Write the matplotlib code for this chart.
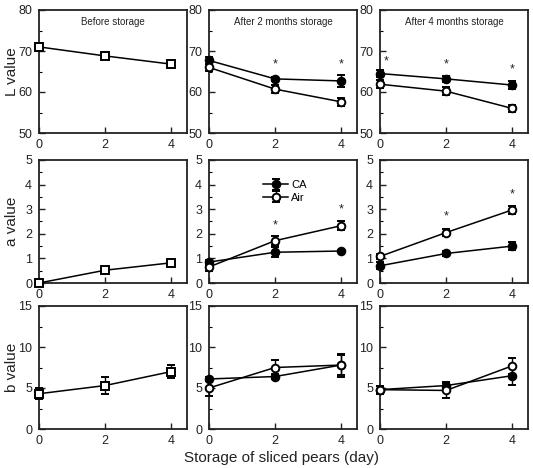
import matplotlib
matplotlib.use("Agg")
import matplotlib.pyplot as plt
from matplotlib.ticker import MultipleLocator

plt.rcParams['font.family'] = ['Liberation Sans', 'DejaVu Sans']

days = [0, 2, 4]
titles = ["Before storage", "After 2 months storage", "After 4 months storage"]
ylabels = ["L value", "a value", "b value"]
ylims = [(50, 80), (0, 5), (0, 15)]
ymajor = [10, 1, 5]
xlabel = "Storage of sliced pears (day)"

# Before storage (single series, open squares)
before_L = [71.0, 68.8, 66.8]
before_L_err = [1.0, 0.8, 0.9]
before_a = [0.0, 0.52, 0.82]
before_a_err = [0.05, 0.1, 0.12]
before_b = [4.3, 5.3, 7.0]
before_b_err = [0.7, 1.0, 0.8]

# After 2 months
m2_L_ca = [67.7, 63.2, 62.7]
m2_L_ca_err = [0.8, 0.5, 1.4]
m2_L_air = [66.0, 60.7, 57.6]
m2_L_air_err = [0.8, 0.9, 1.0]
m2_a_ca = [0.85, 1.25, 1.3]
m2_a_ca_err = [0.1, 0.2, 0.05]
m2_a_air = [0.65, 1.72, 2.33]
m2_a_air_err = [0.15, 0.18, 0.18]
m2_b_ca = [6.1, 6.4, 7.8]
m2_b_ca_err = [0.3, 0.3, 1.2]
m2_b_air = [5.0, 7.5, 7.8]
m2_b_air_err = [1.0, 0.9, 1.4]

# After 4 months
m4_L_ca = [64.5, 63.2, 61.7]
m4_L_ca_err = [0.8, 0.8, 0.9]
m4_L_air = [61.9, 60.2, 56.0]
m4_L_air_err = [1.0, 0.9, 0.8]
m4_a_ca = [0.7, 1.2, 1.5]
m4_a_ca_err = [0.15, 0.1, 0.15]
m4_a_air = [1.08, 2.05, 2.97]
m4_a_air_err = [0.1, 0.15, 0.18]
m4_b_ca = [4.8, 5.3, 6.5]
m4_b_ca_err = [0.5, 0.4, 1.1]
m4_b_air = [4.8, 4.7, 7.7]
m4_b_air_err = [0.4, 0.9, 1.0]

# Significance stars (x, y)
stars_m2_L = [(2, 66.8), (4, 66.8)]
stars_m4_L = [(0.18, 67.5), (2, 66.8), (4, 65.4)]
stars_m2_a = [(2, 2.35), (4, 3.0)]
stars_m4_a = [(2, 2.7), (4, 3.6)]

W, H = 533, 468
fig = plt.figure(figsize=(W / 100, H / 100), dpi=100)

col_left = [39, 209, 380]
col_right = [187, 357, 528]
row_top = [10, 160, 306]
row_bot = [133, 283, 429]

lw = 1.1
ms = 5.5


def mk_ax(r, c):
    l, rt = col_left[c], col_right[c]
    t, b = row_top[r], row_bot[r]
    ax = fig.add_axes([l / W, 1 - b / H, (rt - l) / W, (b - t) / H])
    ax.set_xlim(0, 4.48)
    ax.set_ylim(*ylims[r])
    ax.set_xticks(days)
    ax.yaxis.set_major_locator(MultipleLocator(ymajor[r]))
    ax.yaxis.set_minor_locator(MultipleLocator(ymajor[r] / 2))
    ax.tick_params(axis='both', which='major', direction='in', length=4,
                   width=1, labelsize=9, colors='#222222')
    ax.tick_params(axis='x', which='major', pad=4)
    ax.tick_params(axis='y', which='major', pad=5)
    ax.tick_params(axis='y', which='minor', direction='in', length=2, width=0.8)
    for s in ax.spines.values():
        s.set_linewidth(1.3)
        s.set_color('#222222')
    return ax


def series(ax, y, err, marker, face, label=None):
    ax.errorbar(days, y, yerr=err, color='black', lw=lw, marker=marker,
                ms=ms, mfc=face, mec='black', mew=1.4, capsize=3,
                elinewidth=1.0, capthick=1.0, label=label, clip_on=False,
                zorder=3)


data = [
    [(before_L, before_L_err), (m2_L_ca, m2_L_ca_err, m2_L_air, m2_L_air_err),
     (m4_L_ca, m4_L_ca_err, m4_L_air, m4_L_air_err)],
    [(before_a, before_a_err), (m2_a_ca, m2_a_ca_err, m2_a_air, m2_a_air_err),
     (m4_a_ca, m4_a_ca_err, m4_a_air, m4_a_air_err)],
    [(before_b, before_b_err), (m2_b_ca, m2_b_ca_err, m2_b_air, m2_b_air_err),
     (m4_b_ca, m4_b_ca_err, m4_b_air, m4_b_air_err)],
]
stars = {(0, 1): stars_m2_L, (0, 2): stars_m4_L, (1, 1): stars_m2_a,
         (1, 2): stars_m4_a}

for r in range(3):
    for c in range(3):
        ax = mk_ax(r, c)
        d = data[r][c]
        if c == 0:
            series(ax, d[0], d[1], 's', 'white')
        else:
            series(ax, d[0], d[1], 'o', 'black', 'CA')
            series(ax, d[2], d[3], 'o', 'white', 'Air')
        if r == 0:
            ax.text(0.5, 0.9, titles[c], transform=ax.transAxes, ha='center',
                    va='center', fontsize=7, color='#222222')
        for (sx, sy) in stars.get((r, c), []):
            ax.text(sx, sy, '*', ha='center', va='center', fontsize=9,
                    color='#222222')
        if c == 0:
            ax.set_ylabel(ylabels[r], fontsize=11, color='#222222')
            ax.yaxis.set_label_coords((19 - 39) / 148, 0.5)
        if r == 1 and c == 1:
            ax.legend(loc='upper left', bbox_to_anchor=(0.33, 0.88),
                      frameon=False, fontsize=8, handlelength=2.2,
                      handletextpad=0.3, borderpad=0, labelspacing=0.2)

fig.text(282 / W, 1 - 458 / H, xlabel, ha='center', va='center', fontsize=11,
         color='#222222')

fig.savefig('out.png', dpi=100)
